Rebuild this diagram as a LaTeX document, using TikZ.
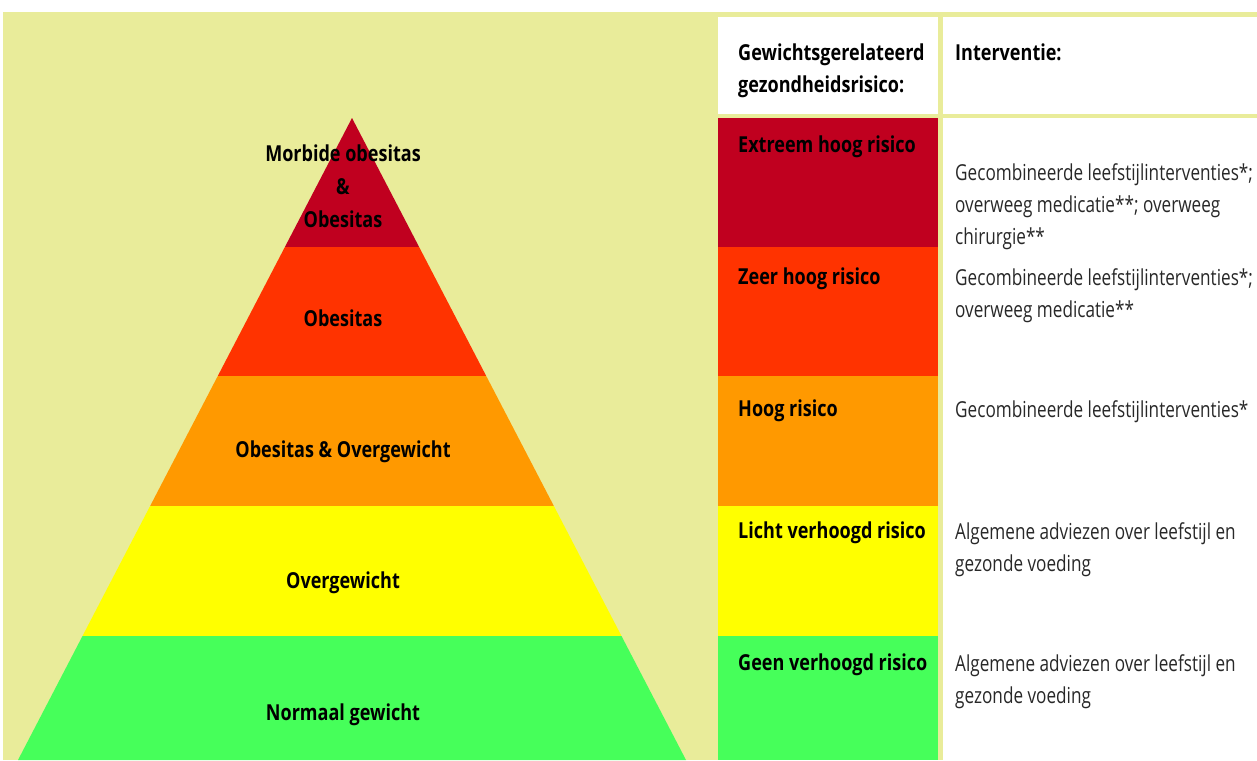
\documentclass[tikz,border=0pt]{standalone}
\usepackage{fontspec}
\setmainfont{Open Sans}[FakeStretch=0.78, BoldFeatures={FakeStretch=0.82}]
\definecolor{khaki}{RGB}{233,236,154}
\definecolor{cRed}{RGB}{192,0,31}
\definecolor{cOrRed}{RGB}{255,51,0}
\definecolor{cOrange}{RGB}{255,153,0}
\definecolor{cYellow}{RGB}{255,255,0}
\definecolor{cGreen}{RGB}{70,255,90}
\definecolor{txtgray}{RGB}{40,40,40}
\tikzset{
  pyrlabel/.style={font=\fontsize{22}{33}\selectfont\bfseries, align=center, inner sep=0pt, text=black},
  risklabel/.style={font=\fontsize{22}{32}\selectfont\bfseries, align=left, anchor=west, inner sep=0pt, text=black},
  intlabel/.style={font=\fontsize{22}{32}\selectfont, align=left, anchor=north west, inner sep=0pt, text=txtgray},
  hdrlabel/.style={font=\fontsize{22}{32}\selectfont\bfseries, align=left, anchor=north west, inner sep=0pt, text=black},
}
\begin{document}
\begin{tikzpicture}[x=1pt,y=-1pt]
\useasboundingbox (0,0) rectangle (1257,760);
\fill[white] (0,0) rectangle (1257,760);
% khaki panel
\fill[khaki] (3,12) rectangle (1257,760);
% header cells
\fill[white] (718,17) rectangle (938,114);
\fill[white] (943,17) rectangle (1257,114);
% risk column
\fill[cRed] (718,118) rectangle (938,247);
\fill[cOrRed] (718,247) rectangle (938,376);
\fill[cOrange] (718,376) rectangle (938,506);
\fill[cYellow] (718,506) rectangle (938,636);
\fill[cGreen] (718,636) rectangle (938,760);
% intervention column
\fill[white] (943,118) rectangle (1257,760);
% pyramid
\begin{scope}
\clip (352,118) -- (18,760) -- (686,760) -- cycle;
\fill[cRed] (0,110) rectangle (700,247);
\fill[cOrRed] (0,247) rectangle (700,376);
\fill[cOrange] (0,376) rectangle (700,506);
\fill[cYellow] (0,506) rectangle (700,636);
\fill[cGreen] (0,636) rectangle (700,761);
\end{scope}
% pyramid labels
\node[pyrlabel] (p1) at (343,186) {Morbide obesitas\\\&\\Obesitas};
\node[pyrlabel] (p2) at (343,318) {Obesitas};
\node[pyrlabel] (p3) at (343,452) {Obesitas \& Overgewicht};
\node[pyrlabel] (p4) at (343,583) {Overgewicht};
\node[pyrlabel] (p5) at (343,715) {Normaal gewicht};
% headers
\node[hdrlabel] (h1) at (738,44) {Gewichtsgerelateerd\\gezondheidsrisico:};
\node[hdrlabel] (h2) at (955,44) {Interventie:};
% risk labels
\node[risklabel] (r1) at (738,147) {Extreem hoog risico};
\node[risklabel] (r2) at (738,279) {Zeer hoog risico};
\node[risklabel] (r3) at (738,411) {Hoog risico};
\node[risklabel] (r4) at (738,533) {Licht verhoogd risico};
\node[risklabel] (r5) at (738,665) {Geen verhoogd risico};
% interventions
\node[intlabel] (i1) at (955,163) {Gecombineerde leefstijlinterventies*;\\overweeg medicatie**; overweeg\\chirurgie**};
\node[intlabel] (i2) at (955,268) {Gecombineerde leefstijlinterventies*;\\overweeg medicatie**};
\node[intlabel] (i3) at (955,400) {Gecombineerde leefstijlinterventies*};
\node[intlabel] (i4) at (955,522) {Algemene adviezen over leefstijl en\\gezonde voeding};
\node[intlabel] (i5) at (955,654) {Algemene adviezen over leefstijl en\\gezonde voeding};
\end{tikzpicture}
\end{document}
